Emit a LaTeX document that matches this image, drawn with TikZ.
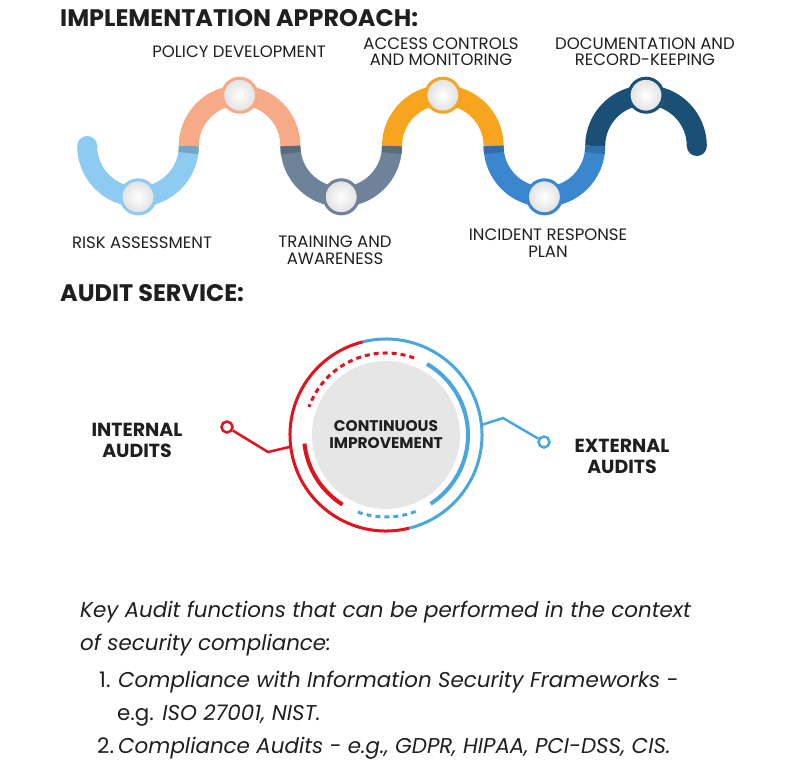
\documentclass[tikz,border=0pt]{standalone}
\usepackage{fontspec}
\setmainfont{Poppins}
\usetikzlibrary{calc,positioning,shadows}
\definecolor{skyb}{HTML}{8DCBF2}
\definecolor{salmon}{HTML}{F7AA88}
\definecolor{slate}{HTML}{6E8399}
\definecolor{amber}{HTML}{F7A51F}
\definecolor{midblue}{HTML}{3A87D0}
\definecolor{navy}{HTML}{1A4F76}
\definecolor{auditred}{HTML}{E2121E}
\definecolor{auditblue}{HTML}{49A6DF}
\definecolor{disc}{HTML}{E6E6E6}

\begin{document}
\begin{tikzpicture}[x=1bp,y=-1bp,every node/.style={inner sep=0pt,text=black!88},
  heading/.style={font=\bfseries\fontsize{24}{28}\selectfont,anchor=base west},
  steplabel/.style={font=\fontsize{16.6}{16.7}\selectfont,align=center},
  knob/.style={circle,minimum size=34bp,line width=3bp,draw=#1,inner color=white,outer color=black!12,
    drop shadow={shadow xshift=1.5bp,shadow yshift=-1.5bp,opacity=.3}},
  band/.style={line width=20bp,draw=#1},
  ring/.style={line width=3bp,draw=#1},
  arcsolid/.style={line width=4bp,draw=#1},
  arcdash/.style={line width=3bp,draw=#1,dash pattern=on 5bp off 4bp},
  auditdot/.style={circle,minimum size=11bp,line width=2.5bp,draw=#1,fill=white},
  link/.style={line width=2.5bp,draw=#1},
  audit/.style={font=\bfseries\fontsize{19}{21}\selectfont,align=center},
  keytext/.style={font=\itshape\fontsize{21.5}{25}\selectfont,anchor=base west}]
  \useasboundingbox[fill=white] (0,0) rectangle (785,774);

  \node[heading] (impl) at (60,27) {IMPLEMENTATION APPROACH:};

  % wave, one half-turn per step
  \foreach \cx/\a/\b/\col in {138/180/0/skyb,239.6/180/360/salmon,341.2/180/0/slate,442.8/180/360/amber,544.4/180/0/midblue,646/180/360/navy}{
    \draw[band=\col] (\cx,146) ++(\a:50.8) arc[start angle=\a,end angle=\b,radius=50.8];
  }
  \foreach \cx/\a/\b/\col in {138/0/8/skyb,341.2/180/172/slate,341.2/0/8/slate,544.4/180/172/midblue,544.4/0/8/midblue}{
    \draw[band=\col!82!black] (\cx,146) ++(\a:50.8) arc[start angle=\a,end angle=\b,radius=50.8];
  }
  \fill[skyb] (87.2,146) circle[radius=10];
  \fill[navy] (696.8,146) circle[radius=10];

  \foreach \n/\x/\y/\col in {risk/138/196.8/skyb,policy/239.6/95.2/salmon,training/341.2/196.8/slate,access/442.8/95.2/amber,incident/544.4/196.8/midblue,docs/646/95.2/navy}{
    \node[knob=\col] (\n) at (\x,\y) {};
  }

  \node[steplabel] (risk-lbl) at (142,242.5) {RISK ASSESSMENT};
  \node[steplabel] (training-lbl) at (335,250.5) {TRAINING AND\\AWARENESS};
  \node[steplabel] (incident-lbl) at (548,243.3) {INCIDENT RESPONSE\\PLAN};
  \node[steplabel] (policy-lbl) at (239,52) {POLICY DEVELOPMENT};
  \node[steplabel] (access-lbl) at (441,51.7) {ACCESS CONTROLS\\AND MONITORING};
  \node[steplabel] (docs-lbl) at (645,51.7) {DOCUMENTATION AND\\RECORD-KEEPING};

  \node[heading] (audit-head) at (60,301) {AUDIT SERVICE:};

  % audit circle
  \node[circle,fill=disc,minimum size=148bp,font=\bfseries\fontsize{15.5}{17}\selectfont,align=center] (ci) at (386,435) {CONTINUOUS\\IMPROVEMENT};
  \draw[ring=auditred] (ci.center) ++(-104:96) arc[start angle=-104,end angle=-284,radius=96];
  \draw[ring=auditblue] (ci.center) ++(76:96) arc[start angle=76,end angle=-104,radius=96];
  \draw[arcsolid=auditred] (ci.center) ++(-186:82) arc[start angle=-186,end angle=-238,radius=82];
  \draw[arcdash=auditred] (ci.center) ++(-70:82) arc[start angle=-70,end angle=-160,radius=82];
  \draw[arcsolid=auditblue] (ci.center) ++(57:82) arc[start angle=57,end angle=-60,radius=82];
  \draw[arcdash=auditblue] (ci.center) ++(-250:82) arc[start angle=-250,end angle=-293,radius=82];

  \node[auditdot=auditred] (int-dot) at (227,427) {};
  \node[auditdot=auditblue] (ext-dot) at (544,442) {};
  \coordinate (int-kink) at (268,452);
  \coordinate (ext-kink) at (503,418);
  \coordinate (int-end) at ($(ci.center)+(173:96)$);
  \coordinate (ext-end) at ($(ci.center)+(-6:96)$);
  \draw[link=auditred] (int-dot) -- (int-kink) -- (int-end);
  \draw[link=auditblue] (ext-end) -- (ext-kink) -- (ext-dot);

  \node[audit] (internal) at (137,440.5) {INTERNAL\\AUDITS};
  \node[audit] (external) at (622,456) {EXTERNAL\\AUDITS};

  % key audit functions
  \foreach \n/\x/\y/\t in {key1/80/617/{Key Audit functions that can be performed in the context},
      key2/80/650/{of security compliance:},
      num1/99/687/{\upshape 1.},item1/118/687/{Compliance with Information Security Frameworks -},
      item1b/117/720/{{\upshape e.g.} ISO 27001, NIST.},
      num2/97/753/{\upshape 2.},item2/118/753/{Compliance Audits - e.g., GDPR, HIPAA, PCI-DSS, CIS.}}{
    \node[keytext] (\n) at (\x,\y) {\t};
  }
\end{tikzpicture}
\end{document}
